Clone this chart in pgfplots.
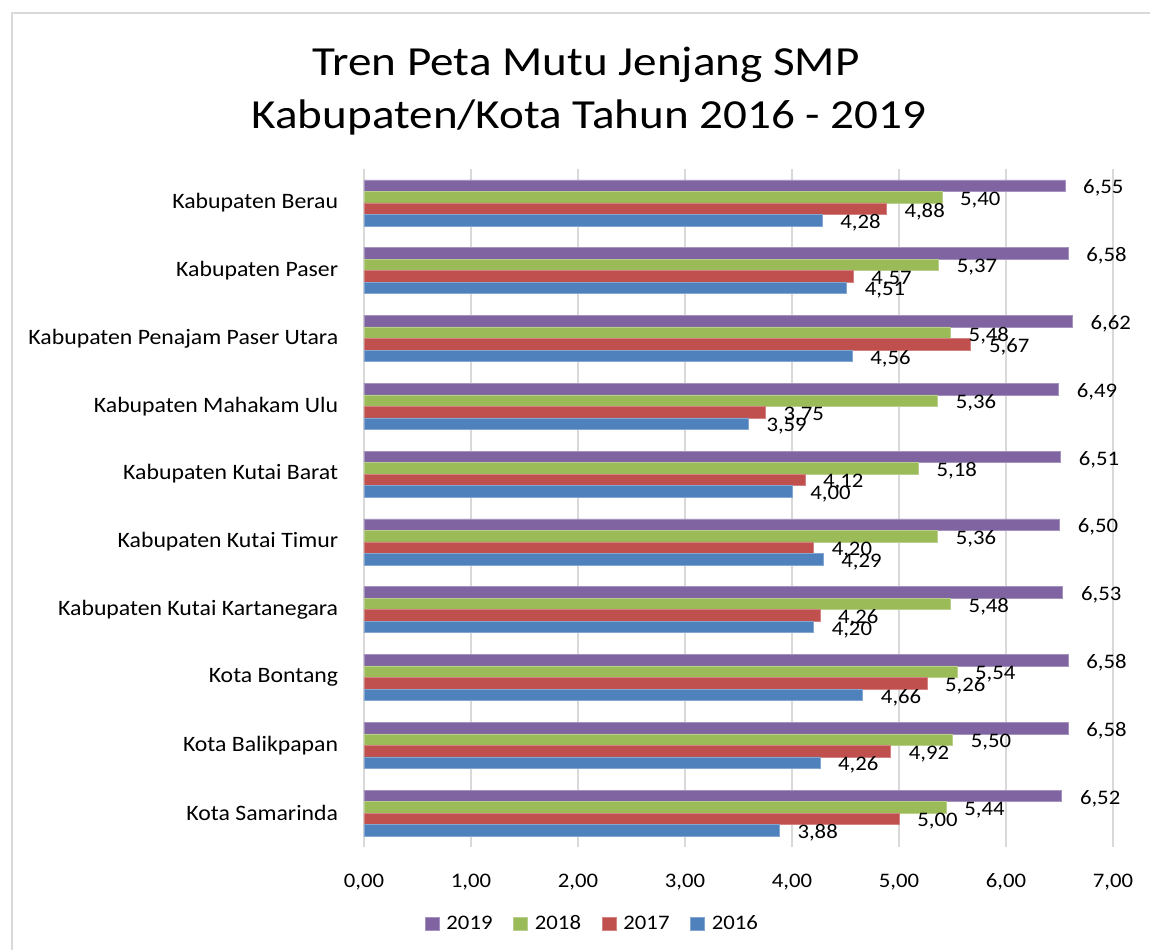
\documentclass[border=0pt]{standalone}
\usepackage{pgfplots}
\pgfplotsset{compat=1.18}
\usepackage{fontspec}
\setmainfont{Carlito}
\definecolor{c19}{HTML}{8064A2}
\definecolor{c18}{HTML}{9BBB59}
\definecolor{c17}{HTML}{C0504D}
\definecolor{c16}{HTML}{4F81BD}
\definecolor{gridc}{HTML}{D9D9D9}
\begin{document}
\begin{tikzpicture}[x=0.75pt,y=-0.75pt]
\path[use as bounding box] (0,0) rectangle (1150,950);
\draw[color=gridc, line width=1.2pt] (12,950) -- (12,13) -- (1150,13);
\node[font=\fontsize{31}{36}\selectfont, xscale=1.14] at (586,65) {Tren Peta Mutu Jenjang SMP};
\node[font=\fontsize{31}{36}\selectfont, xscale=1.14] at (589,117) {Kabupaten/Kota Tahun 2016 - 2019};
\coordinate (A) at (364,169);
\begin{axis}[
  at={(A)}, anchor=north west,
  scale only axis, width=561.75pt, height=508.5pt,
  xbar, bar width=0.17,
  xmin=0, xmax=7, ymin=-0.5, ymax=9.5,
  xtick={0,1,...,7},
  ytick={0,...,9},
  yticklabels={Kota Samarinda, Kota Balikpapan, Kota Bontang, Kabupaten Kutai Kartanegara, Kabupaten Kutai Timur, Kabupaten Kutai Barat, Kabupaten Mahakam Ulu, Kabupaten Penajam Paser Utara, Kabupaten Paser, Kabupaten Berau},
  xmajorgrids, grid style={gridc, line width=1.1pt},
  axis line style={draw=none}, tick style={draw=none},
  /pgf/number format/.cd, use comma, fixed, fixed zerofill, precision=2, assume math mode=true,
  /pgfplots/.cd,
  x tick label style={font=\fontsize{15.5}{18}\selectfont, xscale=1.1, yshift=-16pt, text height=11pt, text depth=3pt},
  y tick label style={font=\fontsize{16.5}{19}\selectfont, xscale=1.08, xshift=-10.5pt},
  point meta=x,
  nodes near coords,
  every node near coord/.append style={font=\fontsize{15.5}{18}\selectfont, xscale=1.1, text=black, xshift=9pt, yshift=-2pt},
  legend columns=4,
  legend style={at={(0.3057,-0.1136)}, anchor=center, draw=none, font=\fontsize{15.5}{18}\selectfont,
    nodes={xscale=1.1, text height=11pt, text depth=3pt},
    /tikz/every odd column/.append style={column sep=3pt},
    /tikz/every even column/.append style={column sep=13.5pt}},
  legend image code/.code={\fill[#1] (0pt,-5pt) rectangle (10.5pt,5pt);},
]
\addplot[fill=c19, draw=c19!70!white, bar shift=0.255] coordinates {
(6.55,9) (6.58,8) (6.62,7) (6.49,6) (6.51,5) (6.50,4) (6.53,3) (6.58,2) (6.58,1) (6.52,0)};
\addlegendentry{2019}
\addplot[fill=c18, draw=c18!70!white, bar shift=0.085] coordinates {
(5.40,9) (5.37,8) (5.48,7) (5.36,6) (5.18,5) (5.36,4) (5.48,3) (5.54,2) (5.50,1) (5.44,0)};
\addlegendentry{2018}
\addplot[fill=c17, draw=c17!70!white, bar shift=-0.085] coordinates {
(4.88,9) (4.57,8) (5.67,7) (3.75,6) (4.12,5) (4.20,4) (4.26,3) (5.26,2) (4.92,1) (5.00,0)};
\addlegendentry{2017}
\addplot[fill=c16, draw=c16!70!white, bar shift=-0.255] coordinates {
(4.28,9) (4.51,8) (4.56,7) (3.59,6) (4.00,5) (4.29,4) (4.20,3) (4.66,2) (4.26,1) (3.88,0)};
\addlegendentry{2016}
\end{axis}
\end{tikzpicture}
\end{document}
